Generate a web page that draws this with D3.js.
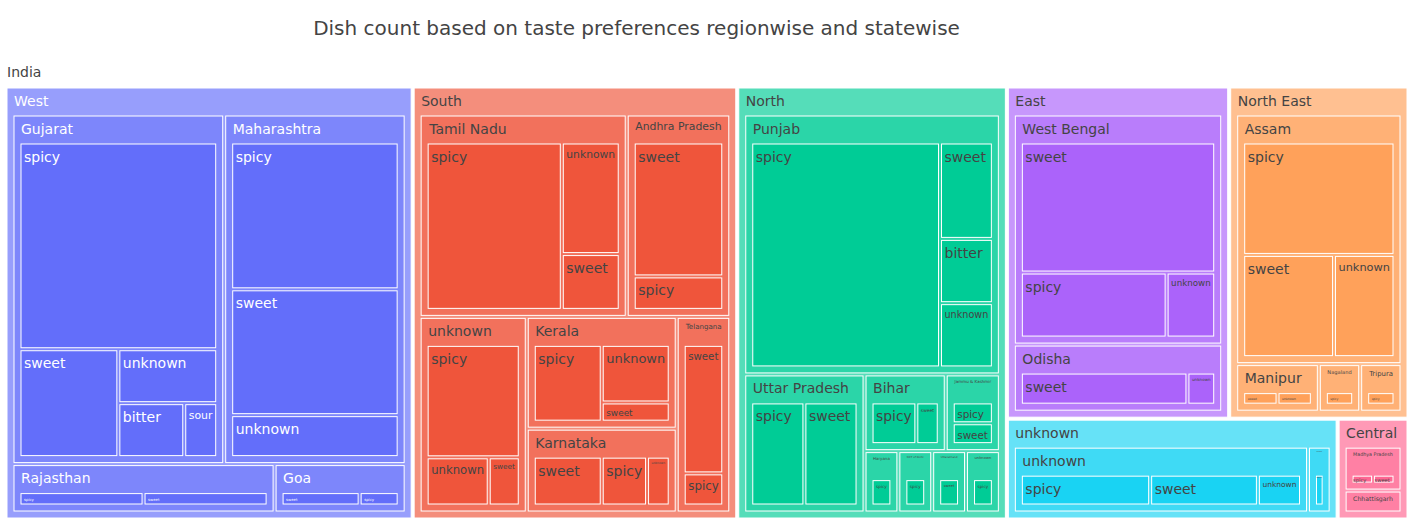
<!DOCTYPE html>
<html><head><meta charset="utf-8">
<script src="https://cdn.jsdelivr.net/npm/d3@7"></script>
<style>body{margin:0;background:#fff;} svg{display:block;font-family:"DejaVu Sans",Verdana,sans-serif;}</style>
</head><body><svg id="chart" width="1414" height="525"></svg>
<script>
const titleText = "Dish count based on taste preferences regionwise and statewise";
const rootLabel = "India";
const regionNames = ["West","South","North","East","North East","unknown","Central"];
const regionColors = ["#636efa","#EF553B","#00cc96","#ab63fa","#FFA15A","#19d3f3","#FF6692"];

const rowRegion = [
 "West","West","West","West","West",
 "West","West","West",
 "West","West",
 "West","West",
 "South","South","South",
 "South","South",
 "South","South","South",
 "South","South","South",
 "South","South","South",
 "South","South",
 "North","North","North","North",
 "North","North",
 "North","North",
 "North","North",
 "North","North","North","North",
 "East","East","East",
 "East","East",
 "North East","North East","North East",
 "North East","North East",
 "North East","North East",
 "unknown","unknown","unknown",
 "unknown",
 "Central","Central",
 "Central"];
const rowState = [
 "Gujarat","Gujarat","Gujarat","Gujarat","Gujarat",
 "Maharashtra","Maharashtra","Maharashtra",
 "Rajasthan","Rajasthan",
 "Goa","Goa",
 "Tamil Nadu","Tamil Nadu","Tamil Nadu",
 "Andhra Pradesh","Andhra Pradesh",
 "unknown","unknown","unknown",
 "Kerala","Kerala","Kerala",
 "Karnataka","Karnataka","Karnataka",
 "Telangana","Telangana",
 "Punjab","Punjab","Punjab","Punjab",
 "Uttar Pradesh","Uttar Pradesh",
 "Bihar","Bihar",
 "Jammu & Kashmir","Jammu & Kashmir",
 "Haryana","NCT of Delhi","Uttarakhand","unknown",
 "West Bengal","West Bengal","West Bengal",
 "Odisha","Odisha",
 "Assam","Assam","Assam",
 "Manipur","Manipur",
 "Nagaland","Tripura",
 "unknown","unknown","unknown",
 "Uttar Pradesh",
 "Madhya Pradesh","Madhya Pradesh",
 "Chhattisgarh"];
const rowFlavor = [
 "spicy","sweet","unknown","bitter","sour",
 "spicy","sweet","unknown",
 "spicy","sweet",
 "sweet","spicy",
 "spicy","unknown","sweet",
 "sweet","spicy",
 "spicy","unknown","sweet",
 "spicy","unknown","sweet",
 "sweet","spicy","unknown",
 "sweet","spicy",
 "spicy","sweet","bitter","unknown",
 "spicy","sweet",
 "spicy","sweet",
 "spicy","sweet",
 "spicy","spicy","sweet","spicy",
 "sweet","spicy","unknown",
 "sweet","unknown",
 "spicy","sweet","unknown",
 "sweet","unknown",
 "spicy","spicy",
 "spicy","sweet","unknown",
 "sweet",
 "spicy","sweet",
 "sweet"];
const rowCount = [
 23,6,3,2,1,
 14,12,4,
 3,3,
 2,1,
 14,4,2,
 8,2,
 7,2,1,
 4,3,1,
 3,2,1,
 4,1,
 25,3,2,2,
 4,4,
 2,1,
 1,1,
 1,1,1,1,
 16,6,2,
 6,1,
 11,6,4,
 1,1,
 1,1,
 6,5,2,
 1,
 1,1,
 1];

// ---- build hierarchy ----
const rootObj = {name: rootLabel, children: []};
rowRegion.forEach((reg, i) => {
  let r = rootObj.children.find(c => c.name === reg);
  if (!r) { r = {name: reg, children: []}; rootObj.children.push(r); }
  let s = r.children.find(c => c.name === rowState[i]);
  if (!s) { s = {name: rowState[i], children: []}; r.children.push(s); }
  s.children.push({name: rowFlavor[i], value: rowCount[i]});
});
const root = d3.hierarchy(rootObj).sum(d => d.value || 0).sort((a, b) => b.value - a.value);

const X0 = 7, Y0 = 88, X1 = 1407, Y1 = 518;
const PT = 28, PL = 7, PR = 7, PB = 7, PIN = 3, TEXTPAD = 3, FS = 14;
d3.treemap()
  .tile(d3.treemapSquarify.ratio(1))
  .size([X1 - X0, Y1 - Y0])
  .paddingInner(PIN)
  .paddingTop(d => d.depth === 0 ? 0 : PT)
  .paddingLeft(d => d.depth === 0 ? 0 : PL)
  .paddingRight(d => d.depth === 0 ? 0 : PR)
  .paddingBottom(d => d.depth === 0 ? 0 : PB)(root);

const colorScale = d3.scaleOrdinal().domain(regionNames).range(regionColors);
function baseColor(n) { let a = n; while (a.depth > 1) a = a.parent; return colorScale(a.data.name); }
function textColor(c) { const r = d3.rgb(c); const b = (r.r * 299 + r.g * 587 + r.b * 114) / 1000; return b >= 128 ? "#444" : "#fff"; }

const svg = d3.select("#chart");
svg.append("text").attr("x", 636.5).attr("y", 35).attr("text-anchor", "middle")
  .attr("font-size", 20).attr("fill", "#444").text(titleText);
svg.append("text").attr("x", 7).attr("y", 77).attr("font-size", FS).attr("fill", "#444").text(rootLabel);

const g = svg.append("g").attr("transform", `translate(${X0},${Y0})`);
const nodes = root.descendants().filter(n => n.depth > 0);
nodes.forEach(n => {
  const w = n.x1 - n.x0, h = n.y1 - n.y0;
  if (w <= 0 || h <= 0) return;
  const base = baseColor(n);
  const fill = d3.interpolateRgb(base, "#ffffff")(n.height / 6);
  g.append("rect").attr("x", n.x0).attr("y", n.y0).attr("width", w).attr("height", h)
    .attr("fill", fill).attr("stroke", "#fff").attr("stroke-width", 1);
});
nodes.forEach(n => {
  let x0 = n.x0, x1 = n.x1, y0 = n.y0, y1 = n.y1;
  if (x1 - x0 <= 0 || y1 - y0 <= 0) return;
  if (n.children) {
    x0 += PL - TEXTPAD; x1 -= PR - TEXTPAD;
    if (x0 >= x1) { const m = (x0 + x1) / 2; x0 = m; x1 = m; }
    const lim = y0 + PT; if (y0 < lim && lim < y1) y1 = lim;
  }
  let lx = x1 - x0, ly = y1 - y0;
  const tp = (lx > 2 * TEXTPAD && ly > 2 * TEXTPAD) ? TEXTPAD : 0;
  lx -= 2 * tp; ly -= 2 * tp;
  if (lx <= 0 || ly <= 0) return;
  const t = g.append("text").attr("font-size", FS).attr("fill", textColor(baseColor(n))).text(n.data.name);
  const bb = t.node().getBBox();
  const s = Math.min(1, lx / bb.width, ly / bb.height);
  t.attr("transform", `translate(${x0 + tp},${y0 + tp}) scale(${s}) translate(${-bb.x},${-bb.y + 1.5})`);
});
</script></body></html>
